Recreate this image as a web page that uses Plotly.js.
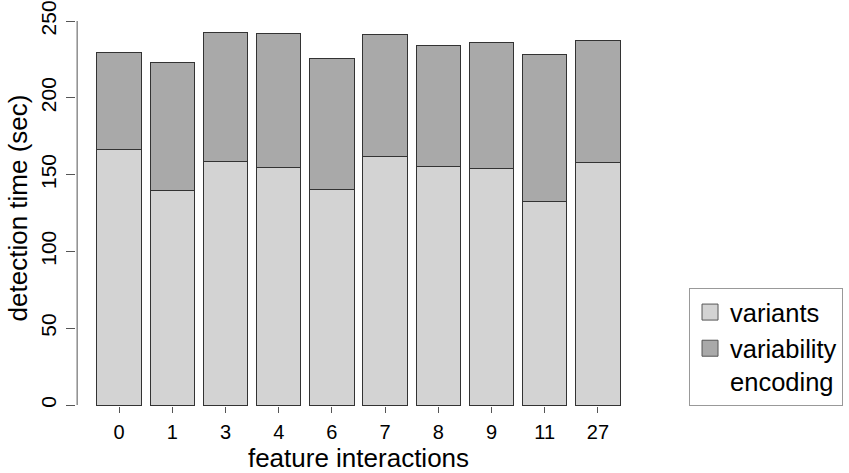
<!DOCTYPE html>
<html>
<head>
<meta charset="utf-8">
<script src="https://cdn.plot.ly/plotly-3.0.1.min.js"></script>
<style>html,body{margin:0;padding:0;background:#fff;}#chart{width:849px;height:473px;}</style>
</head>
<body>
<div id="chart"></div>
<script>
const categories = ["0", "1", "3", "4", "6", "7", "8", "9", "11", "27"];
const variants = [166.5, 139.5, 158.4, 154.7, 140.6, 162.1, 155.4, 154.1, 132.8, 158.0];
const variabilityEncoding = [62.7, 83.8, 84.1, 87.2, 85.2, 79.0, 78.5, 81.8, 95.1, 79.2];
const seriesNames = ["variants", "variability<br>encoding"];
const seriesColors = ["#d3d3d3", "#a9a9a9"];
const yTicks = [0, 50, 100, 150, 200, 250];

const FONT = "Liberation Sans, Arial, Helvetica, sans-serif";
const series = [variants, variabilityEncoding];

const traces = [];
series.forEach((vals, i) => {
  traces.push({
    type: "bar", x: categories, y: vals, name: seriesNames[i],
    showlegend: false, legendgroup: "g" + i,
    marker: {color: seriesColors[i], line: {color: "#333333", width: 1}}
  });
});
// legend key entries (larger square swatches, no visible marks on the plot)
series.forEach((vals, i) => {
  traces.push({
    type: "scatter", mode: "markers", x: [categories[0]], y: [null],
    name: seriesNames[i], legendgroup: "g" + i, showlegend: true,
    marker: {symbol: "square", size: 16, color: seriesColors[i], line: {color: "#555555", width: 1}}
  });
});

const layout = {
  width: 849, height: 473,
  margin: {l: 76, r: 208, t: 10, b: 67, autoexpand: false},
  paper_bgcolor: "#ffffff", plot_bgcolor: "#ffffff",
  barmode: "stack", bargap: 0.1667,
  font: {family: FONT, color: "#000000"},
  showlegend: true,
  legend: {
    x: 1.085, y: 0, xanchor: "left", yanchor: "bottom",
    traceorder: "normal", valign: "top",
    bordercolor: "#999999", borderwidth: 1, bgcolor: "#ffffff",
    font: {family: FONT, size: 25.5, color: "#000000"},
    itemwidth: 30, tracegroupgap: 0, itemsizing: "trace"
  },
  xaxis: {
    type: "category", range: [-0.81, 9.81],
    showgrid: false, zeroline: false, showline: false,
    ticks: "outside", ticklen: 6, tickwidth: 1, tickcolor: "#555555",
    ticklabelstandoff: 2,
    tickfont: {family: FONT, size: 20, color: "#000000"},
    title: {text: "feature interactions", font: {family: FONT, size: 26, color: "#000000"}, standoff: 9},
    fixedrange: true
  },
  yaxis: {
    range: [-0.65, 257.16],
    tickvals: yTicks, ticktext: yTicks.map(String),
    showgrid: false, zeroline: false, showline: false,
    ticks: "outside", ticklen: 9, tickwidth: 1, tickcolor: "#555555",
    tickangle: -90, ticklabelstandoff: 2,
    tickfont: {family: FONT, size: 21, color: "#000000"},
    title: {text: "detection time (sec)", font: {family: FONT, size: 26, color: "#000000"}, standoff: 1},
    fixedrange: true
  },
  shapes: [
    {type: "line", xref: "paper", yref: "y", x0: 0.002, x1: 0.002, y0: yTicks[0], y1: yTicks[yTicks.length - 1],
     line: {color: "#555555", width: 1}}
  ]
};

Plotly.newPlot("chart", traces, layout, {displayModeBar: false, staticPlot: true});
</script>
</body>
</html>
